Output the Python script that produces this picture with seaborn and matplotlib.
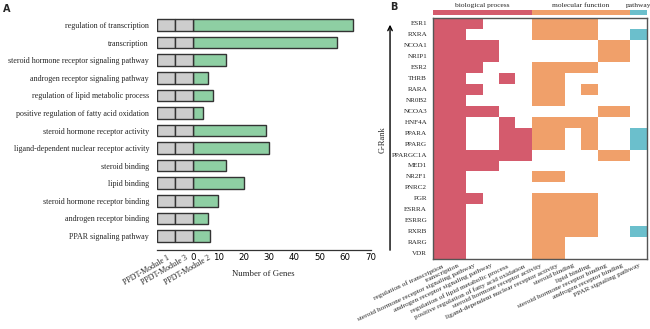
import numpy as np
import pandas as pd
import matplotlib
matplotlib.use("Agg")
import matplotlib.pyplot as plt
import seaborn as sns
from matplotlib.colors import ListedColormap

# enriched terms and number of genes in PPDT-Module 2
terms = ["regulation of transcription", "transcription",
         "steroid hormone receptor signaling pathway",
         "androgen receptor signaling pathway",
         "regulation of lipid metabolic process",
         "positive regulation of fatty acid oxidation",
         "steroid hormone receptor activity",
         "ligand-dependent nuclear receptor activity",
         "steroid binding", "lipid binding",
         "steroid hormone receptor binding",
         "androgen receptor binding", "PPAR signaling pathway"]
gene_counts = [63, 57, 13, 6, 8, 4, 29, 30, 13, 20, 10, 6, 7]
modules = ["PPDT-Module 1", "PPDT-Module 3", "PPDT-Module 2"]

# term category: 1 biological process, 2 molecular function, 3 pathway
categories = ["biological process", "molecular function", "pathway"]
term_category = [1, 1, 1, 1, 1, 1, 2, 2, 2, 2, 2, 2, 3]

# genes ordered by G-Rank, and which terms they belong to
genes = ["ESR1", "RXRA", "NCOA1", "NRIP1", "ESR2", "THRB", "RARA", "NR0B2",
         "NCOA3", "HNF4A", "PPARA", "PPARG", "PPARGC1A", "MED1", "NR2F1",
         "PNRC2", "PGR", "ESRRA", "ESRRG", "RXRB", "RARG", "VDR"]
membership = [
    [1, 1, 1, 0, 0, 0, 1, 1, 1, 1, 0, 0, 0],
    [1, 1, 0, 0, 0, 0, 1, 1, 1, 1, 0, 0, 1],
    [1, 1, 1, 1, 0, 0, 0, 0, 0, 0, 1, 1, 0],
    [1, 1, 1, 1, 0, 0, 0, 0, 0, 0, 1, 1, 0],
    [1, 1, 1, 0, 0, 0, 1, 1, 1, 1, 0, 0, 0],
    [1, 1, 0, 0, 1, 0, 1, 1, 0, 0, 0, 0, 0],
    [1, 1, 1, 0, 0, 0, 1, 1, 0, 1, 0, 0, 0],
    [1, 1, 0, 0, 0, 0, 1, 1, 0, 0, 0, 0, 0],
    [1, 1, 1, 1, 0, 0, 0, 0, 0, 0, 1, 1, 0],
    [1, 1, 0, 0, 1, 0, 1, 1, 1, 1, 0, 0, 0],
    [1, 1, 0, 0, 1, 1, 1, 1, 0, 1, 0, 0, 1],
    [1, 1, 0, 0, 1, 1, 1, 1, 0, 1, 0, 0, 1],
    [1, 1, 1, 1, 1, 1, 0, 0, 0, 0, 1, 1, 0],
    [1, 1, 1, 1, 0, 0, 0, 0, 0, 0, 0, 0, 0],
    [1, 1, 0, 0, 0, 0, 1, 1, 0, 0, 0, 0, 0],
    [1, 1, 0, 0, 0, 0, 0, 0, 0, 0, 0, 0, 0],
    [1, 1, 1, 0, 0, 0, 1, 1, 1, 1, 0, 0, 0],
    [1, 1, 0, 0, 0, 0, 1, 1, 1, 1, 0, 0, 0],
    [1, 1, 0, 0, 0, 0, 1, 1, 1, 1, 0, 0, 0],
    [1, 1, 0, 0, 0, 0, 1, 1, 1, 1, 0, 0, 1],
    [1, 1, 0, 0, 0, 0, 1, 1, 0, 0, 0, 0, 0],
    [1, 1, 0, 0, 0, 0, 1, 1, 0, 0, 0, 0, 0],
]

green = "#8ecfa3"
grey = "#cdcdcd"
red = "#d45b6d"
orange = "#f0a06a"
teal = "#6bbfcc"
serif = "Liberation Serif"
sans = "DejaVu Sans"

sns.set_style("white")
plt.rcParams["font.family"] = [serif, "DejaVu Sans"]

fig = plt.figure(figsize=(6.5, 3.29), dpi=100)

# ---------- panel A ----------
ax = fig.add_axes([0.241, 0.240, 0.329, 0.716])
df_a = pd.DataFrame({"term": terms, "count": gene_counts})
sns.barplot(data=df_a, x="count", y="term", orient="h", color=green,
            edgecolor="#333333", linewidth=1, width=0.66, saturation=1, ax=ax)
box_w = 7.1
pos = np.arange(len(terms))
ax.barh(pos, box_w, left=-2 * box_w, height=0.66, color=grey,
        edgecolor="#333333", linewidth=1)
ax.barh(pos, box_w, left=-box_w, height=0.66, color=grey,
        edgecolor="#333333", linewidth=1)
ax.set_xlim(-2 * box_w, 70)
ax.set_ylim(12.8, -0.6)
ax.set_xticks(range(0, 71, 10))
ax.set_xticklabels([str(v) for v in range(0, 71, 10)], family=sans, fontsize=6.2)
ax.tick_params(axis="x", direction="in", length=3.5, width=0.8, pad=2,
               colors="#333333", labelcolor="black")
ax.tick_params(axis="y", length=0, pad=5.5, labelsize=5.8)
ax.set_ylabel("")
ax.set_xlabel("Number of Genes", fontsize=6.3, labelpad=6)
for s in ["left", "top", "right"]:
    ax.spines[s].set_visible(False)
ax.spines["bottom"].set_color("#333333")
ax.spines["bottom"].set_linewidth(0.9)
for m, xm in zip(modules, [-10.2, -3.0, 6.0]):
    ax.text(xm, -0.015, m, transform=ax.get_xaxis_transform(), ha="right",
            va="top", rotation=30, rotation_mode="anchor", fontsize=5.8)

# ---------- panel B ----------
hm = np.array(membership) * np.array(term_category)
df_b = pd.DataFrame(hm, index=genes, columns=terms)
cmap = ListedColormap(["white", red, orange, teal])

axh = fig.add_axes([0.6667, 0.2128, 0.3283, 0.7316])
sns.heatmap(df_b, cmap=cmap, vmin=-0.5, vmax=3.5, cbar=False, ax=axh,
            xticklabels=True, yticklabels=True)
axh.tick_params(axis="both", length=0)
axh.tick_params(axis="y", pad=4.5, labelsize=5.1)
axh.tick_params(axis="x", pad=3, labelsize=5.2)
plt.setp(axh.get_yticklabels(), rotation=0)
plt.setp(axh.get_xticklabels(), rotation=25, ha="right", rotation_mode="anchor")
for s in axh.spines.values():
    s.set_visible(True)
    s.set_color("#555555")
    s.set_linewidth(1)

# category strip on top
axc = fig.add_axes([0.6667, 0.9544, 0.3283, 0.0152])
sns.heatmap(pd.DataFrame([term_category], columns=terms), cmap=cmap,
            vmin=-0.5, vmax=3.5, cbar=False, ax=axc,
            xticklabels=False, yticklabels=False)
cat_arr = np.array(term_category)
for k, name in enumerate(categories, start=1):
    idx = np.where(cat_arr == k)[0]
    axc.text((idx.min() + idx.max() + 1) / 2, -0.4, name, ha="center",
             va="bottom", fontsize=5.4, clip_on=False)

# G-Rank arrow
axh.annotate("", xy=(-0.203, 0.985), xytext=(-0.203, 0.025),
             xycoords="axes fraction",
             arrowprops=dict(arrowstyle="->", lw=1, color="black",
                             mutation_scale=8),
             annotation_clip=False)
axh.text(-0.236, 0.494, "G-Rank", transform=axh.transAxes, rotation=90,
         ha="center", va="center", fontsize=6)

fig.text(0.004, 0.988, "A", family=sans, fontweight="bold", fontsize=7, va="top")
fig.text(0.600, 0.995, "B", family=sans, fontweight="bold", fontsize=7, va="top")

fig.savefig("out.png", dpi=100)
